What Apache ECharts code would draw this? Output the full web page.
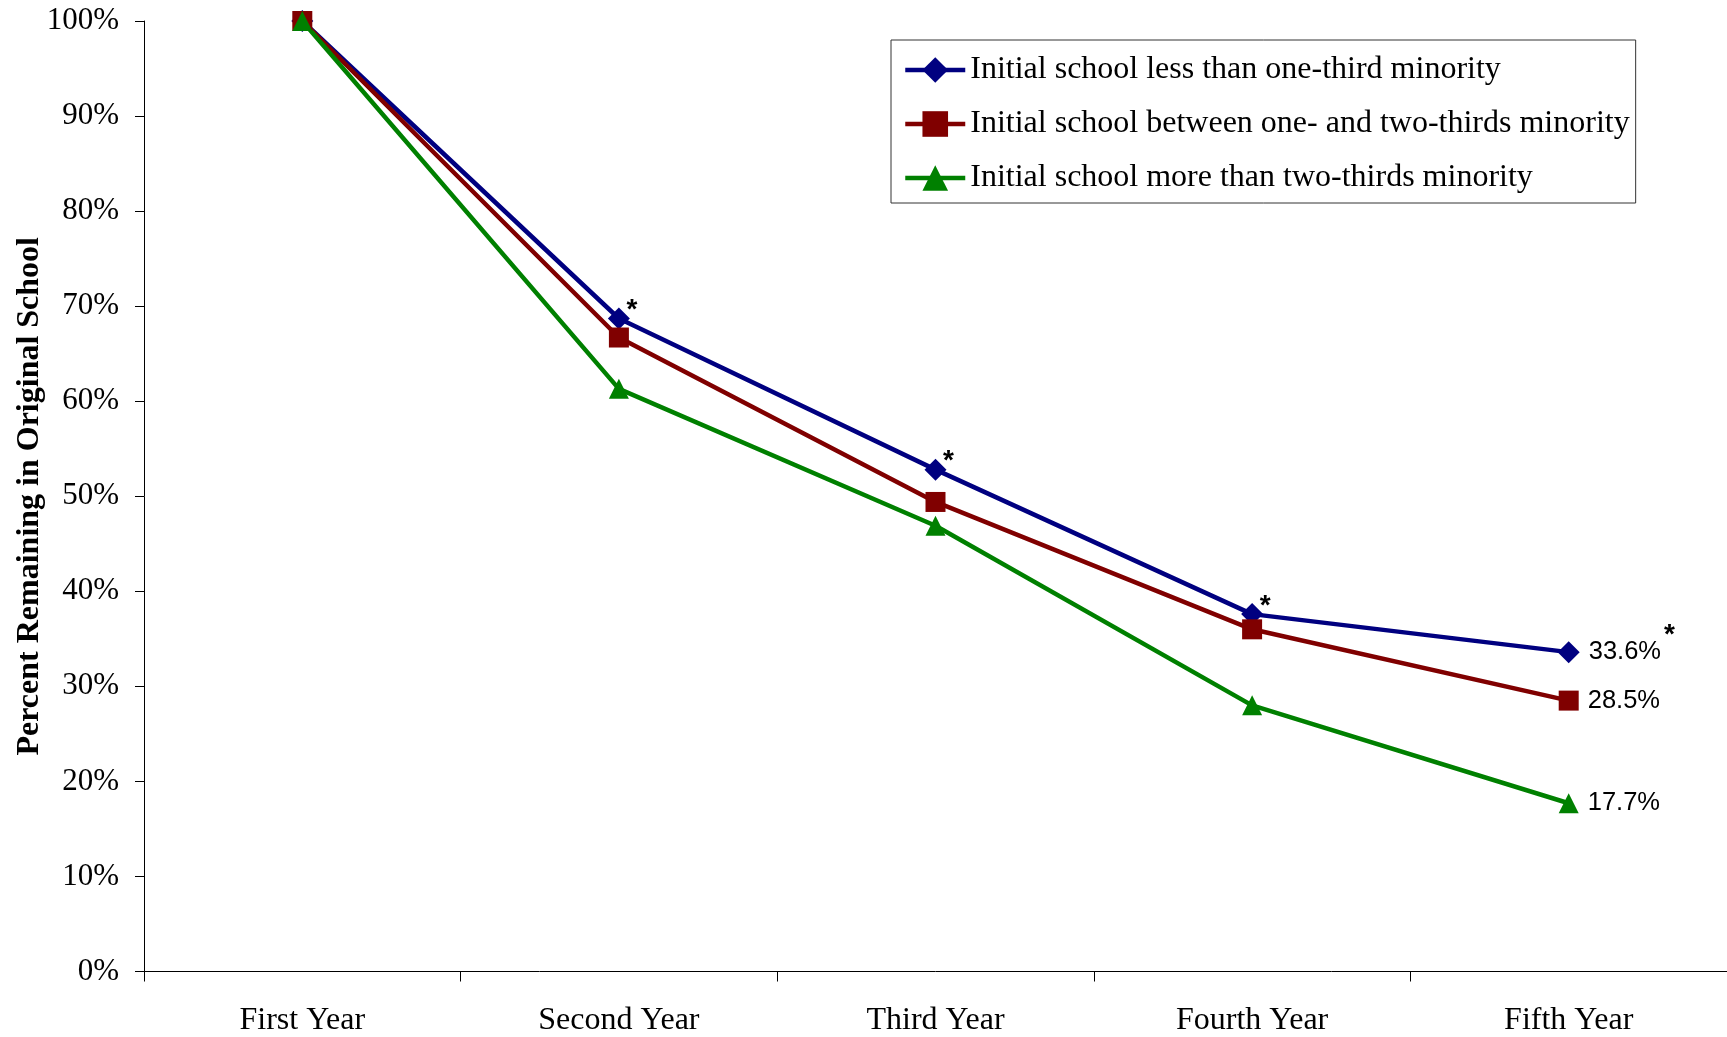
<!DOCTYPE html>
<html>
<head>
<meta charset="utf-8">
<script src="https://cdn.jsdelivr.net/npm/echarts@6/dist/echarts.min.js"></script>
<style>
html,body{margin:0;padding:0;background:#fff;}
#chart{width:1727px;height:1037px;}
</style>
</head>
<body>
<div id="chart"></div>
<script>
const categories = ['First Year', 'Second Year', 'Third Year', 'Fourth Year', 'Fifth Year'];
const seriesNames = [
  'Initial school less than one-third minority',
  'Initial school between one- and two-thirds minority',
  'Initial school more than two-thirds minority'
];
const lessThanThird = [100, 68.7, 52.8, 37.6, 33.6];
const betweenThirds = [100, 66.7, 49.4, 36.0, 28.5];
const moreThanTwoThirds = [100, 61.3, 46.9, 28.0, 17.7];
const significant = [false, true, true, true, true];
const yTicks = [0, 10, 20, 30, 40, 50, 60, 70, 80, 90, 100];

const colors = ['#000080', '#800000', '#008000'];
const symbols = ['diamond', 'rect', 'triangle'];
const serif = '"Liberation Serif", "Times New Roman", serif';
const sans = '"Liberation Sans", Arial, sans-serif';

function buildData(values, withStars) {
  const last = values.length - 1;
  return values.map((v, i) => {
    const item = { value: v };
    if (i === last) {
      const star = withStars && significant[i];
      item.label = {
        show: true,
        position: 'right',
        distance: 9,
        formatter: v.toFixed(1) + '%' + (star ? '{s|*}' : ''),
        fontFamily: sans,
        fontSize: 25.5,
        color: '#000',
        rich: {
          s: { fontFamily: sans, fontSize: 28, fontWeight: 'bold', color: '#000', padding: [0, 0, 34, 3] }
        }
      };
    } else if (withStars && significant[i]) {
      item.label = {
        show: true,
        position: 'inside',
        offset: [13, -8],
        formatter: '*',
        fontFamily: sans,
        fontSize: 28,
        fontWeight: 'bold',
        color: '#000'
      };
    }
    return item;
  });
}

const allValues = [lessThanThird, betweenThirds, moreThanTwoThirds];
const series = allValues.map((vals, k) => ({
  name: seriesNames[k],
  type: 'line',
  data: buildData(vals, k === 0),
  symbol: symbols[k],
  symbolSize: k === 0 ? 22 : 20,
  lineStyle: { color: colors[k], width: 4.5 },
  itemStyle: { color: colors[k] },
  label: { show: false },
  emphasis: { disabled: true },
  animation: false
}));

const chart = echarts.init(document.getElementById('chart'));
chart.setOption({
  backgroundColor: '#fff',
  animation: false,
  grid: { left: 144, right: 0, top: 21, bottom: 65.5, containLabel: false, outerBoundsMode: 'none' },
  legend: {
    orient: 'vertical',
    left: 891,
    top: 40,
    data: seriesNames,
    backgroundColor: '#fff',
    borderColor: '#333',
    borderWidth: 1,
    padding: [13, 6, 8, 12],
    itemWidth: 60,
    itemHeight: 32,
    itemGap: 20,
    lineStyle: { width: 4.5 },
    textStyle: { fontFamily: serif, fontSize: 32, color: '#000', lineHeight: 34 }
  },
  xAxis: {
    type: 'category',
    data: categories,
    boundaryGap: true,
    axisLine: { show: true, lineStyle: { color: '#000', width: 1 } },
    axisTick: { show: true, length: 10, alignWithLabel: false, lineStyle: { color: '#000' } },
    axisLabel: { fontFamily: serif, fontSize: 32, color: '#000', margin: 33 },
    splitLine: { show: false }
  },
  yAxis: {
    type: 'value',
    min: yTicks[0],
    max: yTicks[yTicks.length - 1],
    interval: yTicks[1] - yTicks[0],
    name: 'Percent Remaining in Original School',
    nameLocation: 'middle',
    nameGap: 98,
    nameMoveOverlap: false,
    nameTextStyle: { fontFamily: serif, fontSize: 32, fontWeight: 'bold', color: '#000' },
    axisLine: { show: true, lineStyle: { color: '#000', width: 1 } },
    axisTick: { show: true, length: 9, lineStyle: { color: '#000' } },
    axisLabel: { fontFamily: serif, fontSize: 31, color: '#000', margin: 25, formatter: '{value}%' },
    splitLine: { show: false }
  },
  series: series
});
</script>
</body>
</html>
